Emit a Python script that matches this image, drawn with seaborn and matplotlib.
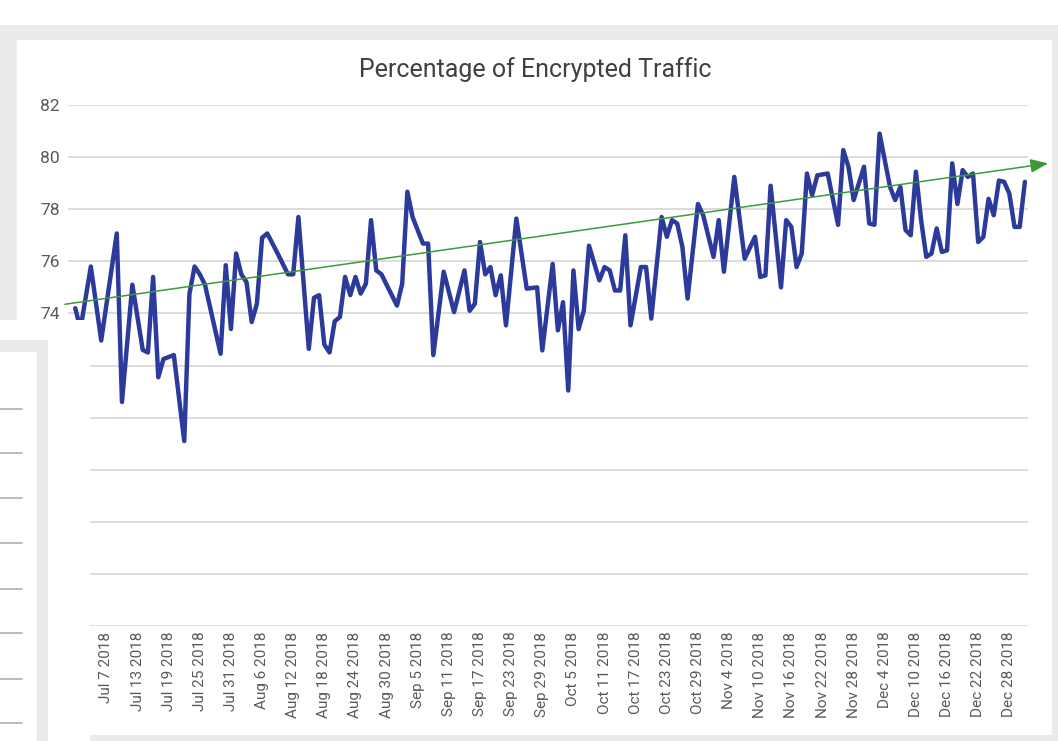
import pandas as pd
import matplotlib.pyplot as plt
import seaborn as sns
from matplotlib.patches import Rectangle
from matplotlib.lines import Line2D

# daily share of encrypted traffic (turning points), days since Jul 1 2018
days = [0, 1, 3, 5, 8, 9, 11, 13, 14, 15, 16, 17, 19, 21, 22, 23, 24, 25, 28, 29,
        30, 31, 32, 33, 34, 35, 36, 37, 39, 41, 42, 43, 45, 46, 47, 48, 49, 50, 51, 52,
        53, 54, 55, 56, 57, 58, 59, 62, 63, 64, 65, 67, 68, 69, 71, 73, 75, 76, 77, 78,
        79, 80, 81, 82, 83, 85, 87, 89, 90, 92, 93, 94, 95, 96, 97, 98, 99, 101, 102, 103,
        104, 105, 106, 107, 109, 110, 111, 113, 114, 115, 116, 117, 118, 120, 121, 123, 124, 125, 127, 129,
        131, 132, 133, 134, 136, 137, 138, 139, 140, 141, 142, 143, 145, 147, 148, 149, 150, 152, 153, 154,
        155, 156, 157, 158, 159, 160, 161, 162, 163, 164, 165, 166, 167, 168, 169, 170, 171, 172, 173, 174,
        175, 176, 177, 178, 179, 180, 181, 182, 183]
pct = [74.2, 73.4, 75.8, 72.96, 77.07, 70.6, 75.1, 72.6, 72.5, 75.4, 71.55, 72.25, 72.4, 69.1, 74.75, 75.8, 75.5, 75.1, 72.45, 75.85,
       73.4, 76.3, 75.5, 75.2, 73.67, 74.37, 76.9, 77.07, 76.3, 75.5, 75.5, 77.7, 72.64, 74.6, 74.7, 72.8, 72.5, 73.7, 73.86, 75.4,
       74.7, 75.4, 74.76, 75.14, 77.58, 75.65, 75.5, 74.3, 75.14, 78.67, 77.7, 76.68, 76.68, 72.4, 75.6, 74.05, 75.65, 74.1, 74.37, 76.74,
       75.5, 75.78, 74.7, 75.46, 73.54, 77.64, 74.95, 75.0, 72.58, 75.9, 73.35, 74.43, 71.04, 75.65, 73.4, 74.1, 76.6, 75.27, 75.78, 75.65,
       74.88, 74.88, 77.0, 73.54, 75.78, 75.78, 73.8, 77.7, 76.94, 77.58, 77.45, 76.55, 74.57, 78.2, 77.77, 76.17, 77.58, 75.6, 79.24, 76.1,
       76.94, 75.4, 75.46, 78.9, 75.0, 77.58, 77.32, 75.78, 76.3, 79.37, 78.54, 79.3, 79.37, 77.4, 80.27, 79.63, 78.35, 79.63, 77.45, 77.4,
       80.9, 79.88, 78.86, 78.35, 78.86, 77.2, 77.0, 79.44, 77.58, 76.17, 76.3, 77.26, 76.36, 76.42, 79.76, 78.2, 79.5, 79.24, 79.37, 76.74,
       76.94, 78.4, 77.77, 79.1, 79.05, 78.6, 77.32, 77.32, 79.05]

# linear trend (green arrow), start / end
trend_days = [-2, 187.5]
trend_vals = [74.35, 79.76]

tick_labels = ["Jul 7 2018", "Jul 13 2018", "Jul 19 2018", "Jul 25 2018", "Jul 31 2018",
               "Aug 6 2018", "Aug 12 2018", "Aug 18 2018", "Aug 24 2018", "Aug 30 2018",
               "Sep 5 2018", "Sep 11 2018", "Sep 17 2018", "Sep 23 2018", "Sep 29 2018",
               "Oct 5 2018", "Oct 11 2018", "Oct 17 2018", "Oct 23 2018", "Oct 29 2018",
               "Nov 4 2018", "Nov 10 2018", "Nov 16 2018", "Nov 22 2018", "Nov 28 2018",
               "Dec 4 2018", "Dec 10 2018", "Dec 16 2018", "Dec 22 2018", "Dec 28 2018"]
y_ticks = [62, 64, 66, 68, 70, 72, 74, 76, 78, 80, 82]

start = pd.Timestamp("2018-07-01")
df = pd.DataFrame({"date": start + pd.to_timedelta(days, unit="D"), "pct": pct})
trend_dates = start + pd.to_timedelta(trend_days, unit="D")

sns.set_theme(style="whitegrid")
plt.rcParams["font.family"] = ["Roboto", "DejaVu Sans"]

W, H = 1058, 741
fig = plt.figure(figsize=(W / 100, H / 100), dpi=100)
fig.patch.set_facecolor("#ebebeb")

def px_rect(x0, y0, x1, y1, color, z):
    # rectangle given in screen pixels (top-left origin)
    fig.add_artist(Rectangle((x0 / W, 1 - y1 / H), (x1 - x0) / W, (y1 - y0) / H,
                             transform=fig.transFigure, facecolor=color,
                             edgecolor="none", zorder=z))

# screenshot frame: white strip at top, white chart card
px_rect(0, 0, W, 25, "white", -2)
px_rect(17, 40, 1052, 735, "white", -2)

ax = fig.add_axes([68 / W, 1 - 626 / H, 960 / W, 521 / H])
ax.set_facecolor("white")

sns.lineplot(data=df, x="date", y="pct", ax=ax, color="#2b3a9b", linewidth=3.2)

ax.annotate("", xy=(trend_dates[1], trend_vals[1]), xytext=(trend_dates[0], trend_vals[0]),
            arrowprops=dict(arrowstyle="-|>,head_length=0.9,head_width=0.35",
                            color="#3d9a3a", lw=1.1, shrinkA=0, shrinkB=0),
            annotation_clip=False)

ax.set_ylim(62, 82)
ax.set_yticks(y_ticks)
ax.set_xlim(start - pd.Timedelta(days=1.4), start + pd.Timedelta(days=183.6))
tick_pos = pd.to_datetime(tick_labels, format="%b %d %Y")
ax.set_xticks(tick_pos)
ax.set_xticklabels(tick_labels, rotation=90, ha="center", va="top")
ax.tick_params(axis="x", labelsize=11, colors="#595959", length=0, pad=4)
ax.tick_params(axis="y", labelsize=12.5, colors="#595959", length=0, pad=6)
ax.grid(axis="y", color="#d9d9d9", linewidth=1.3)
ax.grid(axis="x", visible=False)
for s in ax.spines.values():
    s.set_visible(False)
ax.set_xlabel("")
ax.set_ylabel("")

fig.text(535 / W, 1 - 70 / H, "Percentage of Encrypted Traffic", ha="center", va="center",
         fontsize=18, color="#404040")

# another window overlapping the lower-left corner of the screenshot
px_rect(0, 320, 90, H, "white", 5)
px_rect(0, 340, 48, 352, "#ebebeb", 6)
px_rect(37, 340, 48, H, "#ebebeb", 6)
for yy in [409, 453, 498, 543, 589, 633, 679, 723]:
    fig.add_artist(Line2D([0, 22 / W], [1 - yy / H, 1 - yy / H], transform=fig.transFigure,
                          color="#b5b5b5", linewidth=1.3, zorder=7))

plt.savefig("out.png", dpi=100, facecolor=fig.get_facecolor())
